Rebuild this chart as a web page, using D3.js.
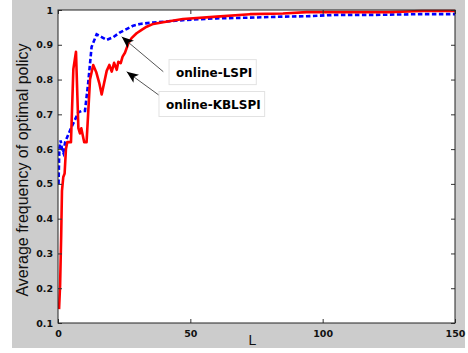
<!DOCTYPE html>
<html>
<head>
<meta charset="utf-8">
<script src="https://cdn.jsdelivr.net/npm/d3@7/dist/d3.min.js"></script>
<style>
  html, body { margin: 0; padding: 0; background: #ffffff; }
  svg { display: block; }
</style>
</head>
<body>
<script>
// ---------- data ----------
const xTicks = [0, 50, 100, 150];
const yTicks = [0.1, 0.2, 0.3, 0.4, 0.5, 0.6, 0.7, 0.8, 0.9, 1];

// online-LSPI (blue, dashed)
const lspiL = [0.2, 0.5, 1.0, 1.5, 2.0, 2.7, 3.5, 4.9, 6.4, 7.7, 9.0, 10.2, 11.4, 12.7, 14.6, 16.5, 18.4, 20.9, 23.3, 25.9, 28.4, 31.0, 35.9, 41.1, 47.2, 60, 72.5, 85, 94, 105, 120, 136.8, 150];
const lspiV = [0.50, 0.60, 0.625, 0.60, 0.59, 0.62, 0.635, 0.66, 0.684, 0.706, 0.71, 0.71, 0.79, 0.894, 0.930, 0.922, 0.914, 0.922, 0.935, 0.945, 0.955, 0.960, 0.964, 0.967, 0.971, 0.976, 0.978, 0.981, 0.982, 0.986, 0.986, 0.988, 0.988];

// online-KBLSPI (red, solid)
const kbL = [0.4, 0.8, 1.2, 1.5, 2.0, 2.5, 3.0, 3.5, 4.9, 5.8, 6.8, 7.7, 8.3, 8.8, 9.9, 10.8, 12.1, 13.3, 14.5, 15.6, 16.5, 18.4, 19.4, 20.3, 21.2, 22.2, 22.8, 23.7, 24.4, 25.3, 26.6, 27.8, 29.7, 31.6, 33.5, 36, 39.7, 47.2, 60, 72.5, 85, 94, 110, 125, 137.5, 150];
const kbV = [0.14, 0.21, 0.35, 0.48, 0.52, 0.53, 0.60, 0.62, 0.62, 0.83, 0.88, 0.66, 0.645, 0.66, 0.62, 0.62, 0.80, 0.842, 0.82, 0.79, 0.757, 0.825, 0.842, 0.823, 0.848, 0.828, 0.851, 0.847, 0.866, 0.877, 0.904, 0.919, 0.933, 0.943, 0.952, 0.96, 0.965, 0.974, 0.981, 0.988, 0.99, 0.994, 0.994, 0.994, 0.997, 0.997];

// annotations (data coordinates)
const labels = ["online-LSPI", "online-KBLSPI"];
const labelL = [44.6, 40.8];
const labelV = [0.807, 0.7154];
const arrowTipL = [24.07, 25.95];
const arrowTipV = [0.923, 0.8226];
const arrowTailL = [39.78, 39.78];
const arrowTailV = [0.8226, 0.746];

// ---------- layout ----------
const W = 468, H = 353;
const plot = { left: 58, right: 455, top: 10, bottom: 323 };

const svg = d3.select("body").append("svg")
  .attr("width", W).attr("height", H)
  .style("background", "#ffffff");

// figure grey background
svg.append("rect").attr("x", 12).attr("y", 0).attr("width", 453).attr("height", 348)
  .attr("fill", "#cccccc");

const x = d3.scaleLinear().domain([0, 150]).range([plot.left, plot.right]);
const y = d3.scaleLinear().domain([0.1, 1]).range([plot.bottom, plot.top]);

// plot area
svg.append("rect")
  .attr("x", plot.left).attr("y", plot.top)
  .attr("width", plot.right - plot.left).attr("height", plot.bottom - plot.top)
  .attr("fill", "#ffffff");

svg.append("clipPath").attr("id", "clip").append("rect")
  .attr("x", plot.left).attr("y", plot.top - 2)
  .attr("width", plot.right - plot.left).attr("height", plot.bottom - plot.top + 2);

const line = d3.line().x(d => x(d[0])).y(d => y(d[1]));

const lspi = lspiL.map((l, i) => [l, lspiV[i]]);
const kb = kbL.map((l, i) => [l, kbV[i]]);

const g = svg.append("g").attr("clip-path", "url(#clip)");
g.append("path").datum(lspi).attr("d", line)
  .attr("fill", "none").attr("stroke", "#0000ff").attr("stroke-width", 2.6)
  .attr("stroke-dasharray", "4.5,2.5");
g.append("path").datum(kb).attr("d", line)
  .attr("fill", "none").attr("stroke", "#ff0000").attr("stroke-width", 2.6)
  .attr("stroke-linejoin", "round");

// axes
const tickFont = "'DejaVu Sans', sans-serif";
const fmtY = d => d === 1 ? "1" : d3.format(".1f")(d);

const axL = svg.append("g").attr("transform", `translate(${plot.left},0)`)
  .call(d3.axisLeft(y).tickValues(yTicks).tickFormat(fmtY).tickSizeInner(-4).tickSizeOuter(0).tickPadding(5));
const axB = svg.append("g").attr("transform", `translate(0,${plot.bottom})`)
  .call(d3.axisBottom(x).tickValues(xTicks).tickSizeInner(-4).tickSizeOuter(0).tickPadding(7));
const axR = svg.append("g").attr("transform", `translate(${plot.right},0)`)
  .call(d3.axisRight(y).tickValues(yTicks).tickFormat("").tickSizeInner(-4).tickSizeOuter(0));
const axT = svg.append("g").attr("transform", `translate(0,${plot.top})`)
  .call(d3.axisTop(x).tickValues(xTicks).tickFormat("").tickSizeInner(-4).tickSizeOuter(0));

[axL, axB, axR, axT].forEach(a => {
  a.select(".domain").remove();
  a.selectAll(".tick line").attr("stroke", "#333333");
  a.selectAll(".tick text")
    .attr("font-family", tickFont).attr("font-weight", "bold")
    .attr("font-size", 9.5).attr("fill", "#111111");
});

// frame
svg.append("rect")
  .attr("x", plot.left).attr("y", plot.top)
  .attr("width", plot.right - plot.left).attr("height", plot.bottom - plot.top)
  .attr("fill", "none").attr("stroke", "#222222").attr("stroke-width", 1);

// axis labels
svg.append("text")
  .attr("transform", `translate(28,170) rotate(-90)`)
  .attr("text-anchor", "middle")
  .attr("font-family", "'Liberation Sans', Arial, sans-serif")
  .attr("font-size", 16).attr("fill", "#111111")
  .text("Average frequency of optimal policy");

svg.append("text")
  .attr("x", 252.5).attr("y", 345)
  .attr("text-anchor", "middle")
  .attr("font-family", "'Liberation Sans', Arial, sans-serif")
  .attr("font-size", 14).attr("fill", "#111111")
  .text("L");

// annotations: arrows
const defs = svg.append("defs");
defs.append("marker").attr("id", "ah")
  .attr("viewBox", "0 0 12 10").attr("refX", 12).attr("refY", 5)
  .attr("markerWidth", 13).attr("markerHeight", 10).attr("markerUnits", "userSpaceOnUse")
  .attr("orient", "auto")
  .append("path").attr("d", "M0,0 L12,5 L0,10 L3,5 z").attr("fill", "#000000");

labels.forEach((t, i) => {
  svg.append("line")
    .attr("x1", x(arrowTailL[i])).attr("y1", y(arrowTailV[i]))
    .attr("x2", x(arrowTipL[i])).attr("y2", y(arrowTipV[i]))
    .attr("stroke", "#555555").attr("stroke-width", 1)
    .attr("marker-end", "url(#ah)");
});

labels.forEach((t, i) => {
  const grp = svg.append("g");
  const txt = grp.append("text")
    .attr("x", x(labelL[i])).attr("y", y(labelV[i]))
    .attr("font-family", tickFont).attr("font-weight", "bold")
    .attr("font-size", 12).attr("fill", "#000000")
    .text(t);
  const bb = txt.node().getBBox();
  grp.insert("rect", "text")
    .attr("x", bb.x - 7).attr("y", bb.y - 6.5)
    .attr("width", bb.width + 11).attr("height", bb.height + 11)
    .attr("fill", "#ffffff").attr("stroke", "#e2e2e2").attr("stroke-width", 1);
});
</script>
</body>
</html>
